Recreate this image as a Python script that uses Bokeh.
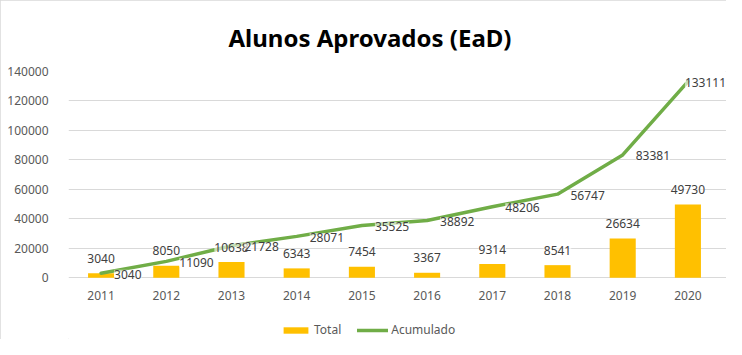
from bokeh.plotting import figure
from bokeh.models import (ColumnDataSource, Range1d, LabelSet, Legend, LegendItem,
                          FixedTicker, Title)
from bokeh.core.properties import value
from bokeh.embed import file_html
from bokeh.resources import INLINE

years = ["2011", "2012", "2013", "2014", "2015", "2016", "2017", "2018", "2019", "2020"]
total = [3040, 8050, 10638, 6343, 7454, 3367, 9314, 8541, 26634, 49730]
acumulado = [3040, 11090, 21728, 28071, 35525, 38892, 48206, 56747, 83381, 133111]
y_ticks = list(range(0, 140001, 20000))

FONT = "Noto Sans"
TXT = "#404040"
AX = "#595959"

idx = list(range(len(years)))
src = ColumnDataSource(dict(
    x=idx, year=years, zero=[0] * len(years), total=total, acum=acumulado,
    total_txt=[str(v) for v in total],
    acum_txt=[str(v) for v in acumulado],
))
# label offsets (last label is pulled in by the chart edge)
src.data["acum_dx"] = [13] * (len(years) - 1) + [-3]

# layout: plot frame 68..726 x 70..339 px; value 0 sits 62 px above the bottom
Y_MAX = y_ticks[-1]
y_min = -Y_MAX * 62 / 207
x_end = len(years) - 0.5 + 6 / 65.2

p = figure(width=726, height=339, output_backend="svg", toolbar_location=None,
           x_range=Range1d(-0.5, x_end), y_range=Range1d(y_min, Y_MAX),
           min_border_left=68, min_border_right=0, min_border_top=70, min_border_bottom=0,
           background_fill_color="white", border_fill_color="white", outline_line_color=None)
p.styles = {"outline": "1px solid #d9d9d9", "outline-offset": "-1px"}

p.title = Title(text="Alunos Aprovados (EaD)", align="left", text_font=FONT,
                text_font_size="24px", text_font_style="bold", text_color="black",
                standoff=36, offset=160)

bars = p.vbar(x="x", top="total", width=0.4, source=src, color="#FFC000", line_color=None)
line = p.line(x="x", y="acum", source=src, line_color="#70AD47", line_width=3.5,
              line_cap="round", line_join="round")

p.add_layout(LabelSet(x="x", y="total", text="total_txt", source=src, text_align="center",
                      text_baseline="middle", y_offset=15, text_font=value(FONT),
                      text_font_size="12px", text_color=TXT, background_fill_color="white",
                      background_fill_alpha=0.6))
p.add_layout(LabelSet(x="x", y="acum", text="acum_txt", source=src, text_align="left",
                      text_baseline="middle", x_offset="acum_dx", y_offset=-1,
                      text_font=value(FONT), text_font_size="12px", text_color=TXT,
                      background_fill_color="white", background_fill_alpha=0.6))
# category labels along the baseline
p.add_layout(LabelSet(x="x", y="zero", text="year", source=src, text_align="center",
                      text_baseline="middle", y_offset=-18, text_font=value(FONT),
                      text_font_size="12px", text_color=AX))

p.xaxis.visible = False
p.yaxis.ticker = FixedTicker(ticks=y_ticks)
p.yaxis.axis_line_color = None
p.yaxis.major_tick_line_color = None
p.yaxis.minor_tick_line_color = None
p.yaxis.major_label_text_font = FONT
p.yaxis.major_label_text_font_size = "12px"
p.yaxis.major_label_text_color = AX
p.yaxis.major_label_standoff = 14
p.yaxis.formatter.use_scientific = False

p.xgrid.grid_line_color = None
p.ygrid.grid_line_color = "#d9d9d9"
p.ygrid.ticker = FixedTicker(ticks=y_ticks)

legend = Legend(items=[LegendItem(label="Total", renderers=[bars]),
                       LegendItem(label="Acumulado", renderers=[line])],
                orientation="horizontal", location=(212, 1), border_line_color=None,
                background_fill_alpha=0, label_text_font=FONT, label_text_font_size="12px",
                label_text_color=AX, glyph_width=31, glyph_height=8, spacing=16,
                label_standoff=3, padding=4, margin=0)
p.add_layout(legend, "center")

open("out.html", "w").write(file_html(p, INLINE))
